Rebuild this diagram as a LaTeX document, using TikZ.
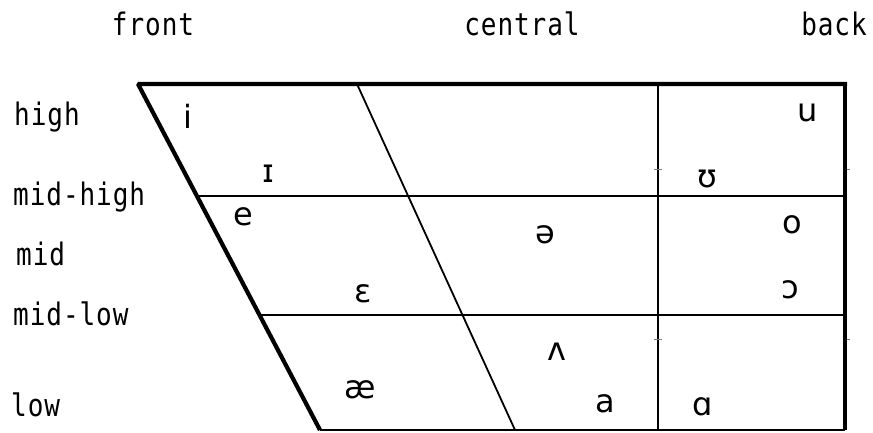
\documentclass[tikz,border=0pt]{standalone}
\usepackage{fontspec}
\setmainfont{DejaVu Sans}
\newfontfamily\labfont[FakeStretch=0.84,LetterSpace=3]{DejaVu Sans Mono}
\newfontfamily\ipafont{DejaVu Sans}
\begin{document}
\begin{tikzpicture}[x=1pt,y=-1pt,
  lab/.style={font=\labfont\fontsize{31}{34}\selectfont, inner sep=0pt, anchor=base west},
  head/.style={font=\labfont\fontsize{31}{34}\selectfont, inner sep=0pt, anchor=base},
  vow/.style={font=\ipafont\fontsize{32}{36}\selectfont, inner sep=0pt, anchor=base},
  thin/.style={line width=1.8pt, black},
  thick/.style={line width=4.2pt, black, line join=bevel},
  tick/.style={line width=0.8pt, gray}]
\useasboundingbox (0,0) rectangle (873,432);
% frame coordinates
\coordinate (TL) at (138,84);
\coordinate (TR) at (847,84);
\coordinate (BR) at (845,430);
\coordinate (BL) at (320,430);
\coordinate (C1) at (357,84);
\coordinate (C2) at (515,430);
\coordinate (V1) at (658,84);
\coordinate (V2) at (658,430);
\coordinate (H1a) at (197,196);
\coordinate (H1b) at (845,196);
\coordinate (H2a) at (259.5,315);
\coordinate (H2b) at (845,315);
% thin lines
\draw[thin] (C1) -- (C2);
\draw[thin] (V1) -- (V2);
\draw[thin] (H1a) -- (H1b);
\draw[thin] (H2a) -- (H2b);
\draw[thin] (BL) -- (BR);
% small ticks
\coordinate (T1a) at (654,169); \coordinate (T1b) at (662,169);
\coordinate (T2a) at (654,339); \coordinate (T2b) at (662,339);
\coordinate (T3a) at (843,169); \coordinate (T3b) at (850,169);
\coordinate (T4a) at (843,339); \coordinate (T4b) at (850,339);
\draw[tick] (T1a) -- (T1b);
\draw[tick] (T2a) -- (T2b);
\draw[tick] (T3a) -- (T3b);
\draw[tick] (T4a) -- (T4b);
% thick border
\draw[thick] (BL) -- (TL) -- (TR);
\coordinate (R1) at (845,82);
\draw[thick] (R1) -- (BR);
% column headings
\node[head] (front) at (153,35) {front};
\node[head] (central) at (522,35) {central};
\node[head] (back) at (834,35) {back};
% row labels
\node[lab] (high) at (14,125) {high};
\node[lab] (midhigh) at (13,205) {mid-high};
\node[lab] (mid) at (16,265) {mid};
\node[lab] (midlow) at (13,325) {mid-low};
\node[lab] (low) at (11,416) {low};
% vowels
\node[vow] (vi) at (188,128) {i};
\node[vow] (vI) at (268,182) {ɪ};
\node[vow] (ve) at (243,225) {e};
\node[vow] (vu) at (808,121) {u};
\node[vow] (vU) at (707,187) {ʊ};
\node[vow] (vschwa) at (545,243) {ə};
\node[vow] (vo) at (792,233) {o};
\node[vow] (veps) at (363,302) {ɛ};
\node[vow] (vopen) at (790,298) {ɔ};
\node[vow] (vwedge) at (557,360) {ʌ};
\node[vow] (va) at (605,412) {a};
\node[vow] (valpha) at (703,415) {ɑ};
\node[vow] (vae) at (360,398) {æ};
\end{tikzpicture}
\end{document}
